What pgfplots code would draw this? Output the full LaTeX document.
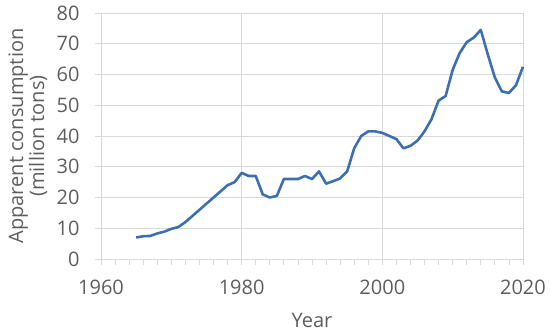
\documentclass[border=0pt]{standalone}
\usepackage{fontspec}
\setmainfont{Open Sans}
\usepackage{pgfplots}
\pgfplotsset{compat=1.18}
\definecolor{txt}{HTML}{5E5E5E}
\definecolor{grd}{HTML}{D9D9D9}
\definecolor{ln}{HTML}{3C6EB2}
\begin{document}
\begin{tikzpicture}
\useasboundingbox (-101pt,-75pt) rectangle (449pt,259pt);
\begin{axis}[
  scale only axis, width=422pt, height=246pt,
  xmin=1960, xmax=2020, ymin=0, ymax=80,
  xtick={1960,1980,2000,2020},
  minor xtick={1962,1964,...,2018},
  ytick={0,10,...,80},
  grid=major,
  major grid style={grd, line width=0.8pt},
  axis x line*=bottom, axis y line*=left,
  x axis line style={grd, line width=0.8pt, -},
  y axis line style={draw=none},
  tick align=outside,
  major tick length=6pt, minor tick length=6pt,
  tick style={grd, line width=0.8pt},
  /pgf/number format/assume math mode=true,
  xticklabel={\pgfmathprintnumber[1000 sep={}]{\tick}},
  xticklabel style={font=\fontsize{20}{24}\selectfont, text=txt, anchor=base, yshift=-30pt},
  yticklabel style={font=\fontsize{20}{24}\selectfont, text=txt, anchor=east, xshift=-12pt},
  xlabel={Year},
  xlabel style={font=\fontsize{20}{24}\selectfont, text=txt, at={(axis description cs:0.5,-0.248)}, anchor=center},
  ylabel={Apparent consumption\\(million tons)},
  ylabel style={font=\fontsize{20}{21}\selectfont, text=txt, align=center, at={(axis description cs:-0.173,0.5)}, anchor=center, rotate=0},
  clip=false,
]
\addplot[ln, line width=2.6pt, line join=round] coordinates {
(1965,7.0) (1966,7.4) (1967,7.5) (1968,8.3) (1969,8.9) (1970,9.8) (1971,10.4)
(1972,12) (1973,14) (1974,16) (1975,18) (1976,20) (1977,22) (1978,24) (1979,25)
(1980,28) (1981,27) (1982,27) (1983,21) (1984,20) (1985,20.5) (1986,26) (1987,26)
(1988,26) (1989,27) (1990,26) (1991,28.5) (1992,24.5) (1993,25.3) (1994,26.2)
(1995,28.5) (1996,36) (1997,40) (1998,41.5) (1999,41.5) (2000,41) (2001,40)
(2002,39) (2003,36) (2004,36.8) (2005,38.5) (2006,41.5) (2007,45.5) (2008,51.5)
(2009,53) (2010,61.5) (2011,67) (2012,70.5) (2013,72) (2014,74.5) (2015,66.5)
(2016,59) (2017,54.5) (2018,54) (2019,56.5) (2020,62.5)
};
\end{axis}
\end{tikzpicture}
\end{document}
